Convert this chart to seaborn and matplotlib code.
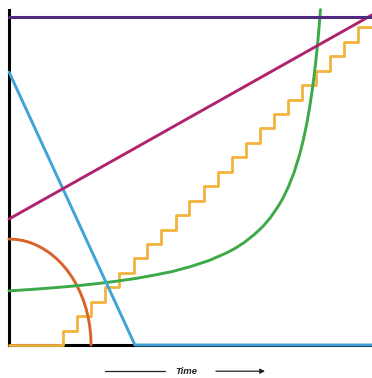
import seaborn as sns
from matplotlib import pyplot as plt
from pandas import DataFrame

# all values in axes units: x 0..1 is time, y 0..1 is the purple ceiling
purple_x = [0.0, 1.0]
purple_y = [1.0, 1.0]

magenta_x = [0.0, 1.0]
magenta_y = [0.384, 1.006]

blue_x = [0.0, 0.347, 1.0]
blue_y = [0.832, 0.0, 0.0]

orange_x = [0.226, 0.2251, 0.2226, 0.2183, 0.2124, 0.2048, 0.1957, 0.1851, 0.1731, 0.1598,
            0.1453, 0.1297, 0.113, 0.0956, 0.0773, 0.0585, 0.0393, 0.0197, 0.0]
orange_y = [0.0, 0.0281, 0.0562, 0.0837, 0.1105, 0.1366, 0.1615, 0.1854, 0.2077, 0.2284,
            0.2474, 0.2645, 0.2797, 0.2926, 0.3036, 0.3120, 0.3182, 0.3217, 0.323]

green_x = [0.0, 0.05, 0.1, 0.15, 0.2, 0.25, 0.3, 0.35, 0.4, 0.45, 0.5, 0.55, 0.6, 0.625, 0.65,
           0.675, 0.7, 0.72, 0.74, 0.755, 0.77, 0.785, 0.8, 0.81, 0.82, 0.828, 0.835, 0.84,
           0.845, 0.849, 0.852, 0.855, 0.858]
green_y = [0.165, 0.1685, 0.1725, 0.177, 0.182, 0.188, 0.195, 0.203, 0.213, 0.224, 0.239, 0.257,
           0.281, 0.296, 0.314, 0.336, 0.362, 0.388, 0.420, 0.448, 0.483, 0.525, 0.578, 0.621,
           0.673, 0.723, 0.774, 0.816, 0.863, 0.906, 0.941, 0.980, 1.022]

stair_x = [0.0, 0.149, 0.188, 0.226, 0.265, 0.304, 0.343, 0.381, 0.420, 0.459, 0.497, 0.536,
           0.575, 0.614, 0.652, 0.691, 0.730, 0.768, 0.807, 0.846, 0.885, 0.923, 0.962, 1.0]
stair_y = [0.0, 0.044, 0.088, 0.132, 0.176, 0.220, 0.264, 0.308, 0.352, 0.396, 0.440, 0.484,
           0.528, 0.572, 0.616, 0.660, 0.704, 0.748, 0.792, 0.836, 0.880, 0.924, 0.968, 0.968]

sns.set_style("white")

fig = plt.figure(figsize=(3.72, 3.78), dpi=100)
ax = fig.add_axes([0.0242, 0.0873, 0.9758, 0.8862])

series = [
    (stair_x, stair_y, "#F2B33D", 2.0, dict(drawstyle="steps-post")),
    (orange_x, orange_y, "#D9622B", 2.1, {}),
    (green_x, green_y, "#3DA948", 2.1, {}),
    (blue_x, blue_y, "#3FA3D6", 2.1, {}),
    (magenta_x, magenta_y, "#B0246E", 2.1, {}),
    (purple_x, purple_y, "#4F2A7F", 2.2, {}),
]
for xs, ys, col, lw, kw in series:
    df = DataFrame(dict(x=xs, y=ys))
    sns.lineplot(data=df, x="x", y="y", sort=False, color=col, lw=lw, ax=ax,
                 clip_on=False, zorder=3, **kw)

ax.set_xlim(0, 1)
ax.set_ylim(0, 1.021)
ax.set_xticks([])
ax.set_yticks([])
ax.set_xlabel("")
ax.set_ylabel("")
sns.despine(ax=ax)
for s in ["left", "bottom"]:
    ax.spines[s].set_color("black")
    ax.spines[s].set_linewidth(2.2)

# time label with arrow
fig.text(0.5, 0.018, "Time", ha="center", va="center", fontsize=6.8,
         fontweight="bold", fontstyle="italic", color="#222222", family="Liberation Sans")
fig.add_artist(plt.Line2D([0.282, 0.444], [0.018, 0.018], color="#222222", lw=0.9))
ax.annotate("", xy=(0.720, 0.018), xytext=(0.573, 0.018), xycoords="figure fraction",
            arrowprops=dict(arrowstyle="-|>", color="#222222", lw=0.9, mutation_scale=7))

plt.savefig("out.png", dpi=100)
